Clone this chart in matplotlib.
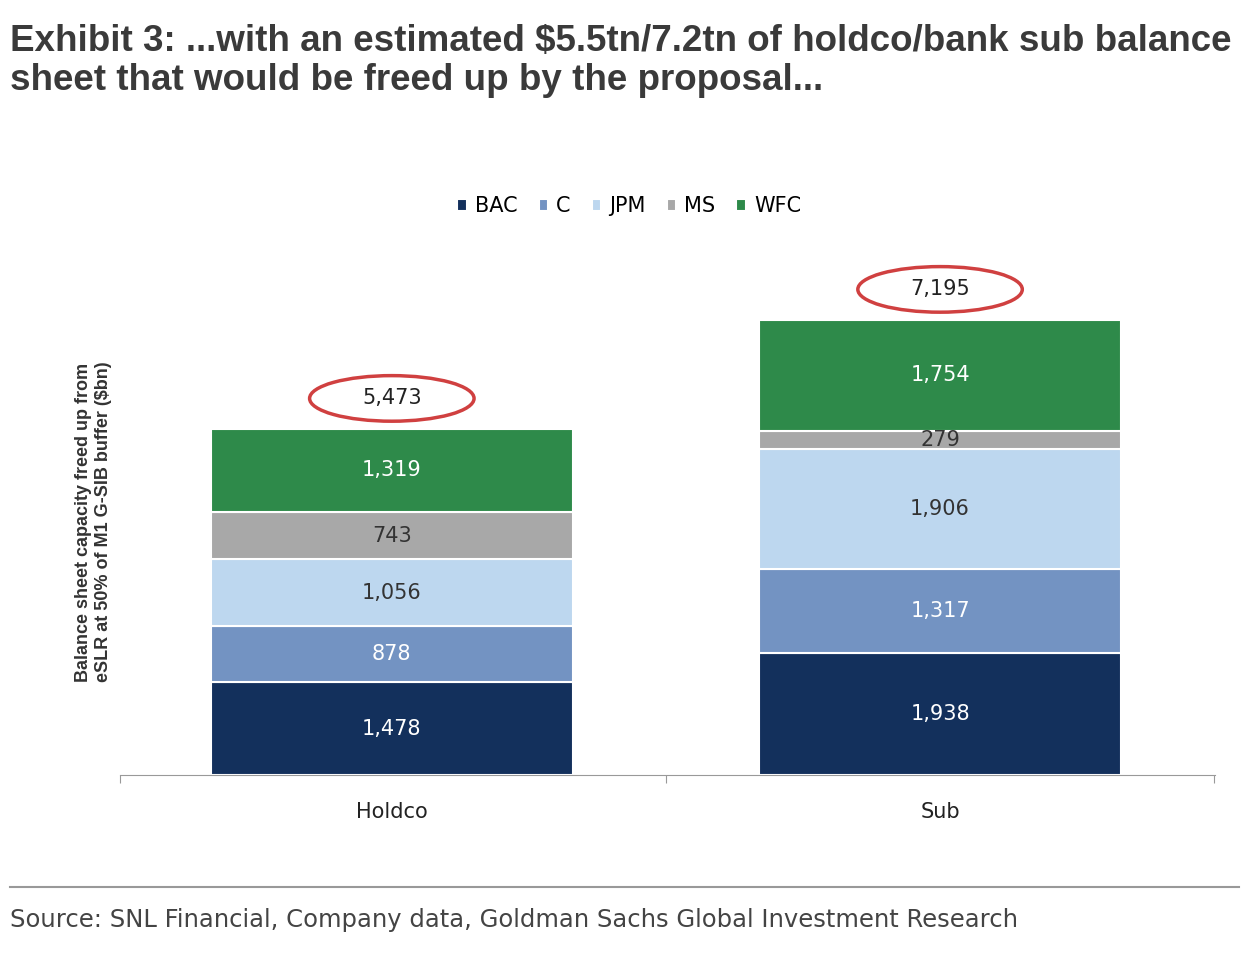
import numpy as np
import matplotlib.pyplot as plt
from matplotlib.patches import Ellipse

categories = ["Holdco", "Sub"]
banks = ["BAC", "C", "JPM", "MS", "WFC"]
bac = [1478, 1938]
c = [878, 1317]
jpm = [1056, 1906]
ms = [743, 279]
wfc = [1319, 1754]
totals = [5473, 7195]

colors = ["#13305c", "#7393c2", "#bdd7ef", "#a8a8a8", "#2e8a4a"]
txtcol = ["white", "white", "#333333", "#333333", "white"]

fig = plt.figure(figsize=(12.49, 9.74), dpi=100)
fig.patch.set_facecolor("white")
fig.text(0.008, 0.975, "Exhibit 3: ...with an estimated $5.5tn/7.2tn of holdco/bank sub balance\nsheet that would be freed up by the proposal...",
         fontsize=26.5, fontweight="bold", color="#3a3a3a", va="top", ha="left", linespacing=1.15,
         family="Liberation Sans")

ax = fig.add_axes([0.096, 0.204, 0.877, 0.52])
x = np.arange(len(categories))
bottom = np.zeros(len(categories))
for name, vals, col, tc in zip(banks, [bac, c, jpm, ms, wfc], colors, txtcol):
    ax.bar(x, vals, 0.66, bottom=bottom, color=col, edgecolor="white", linewidth=1.5, label=name)
    for xi, b, v in zip(x, bottom, vals):
        ax.text(xi, b + v / 2, f"{v:,}", ha="center", va="center", color=tc, fontsize=15)
    bottom += vals

for xi, t in zip(x, totals):
    ax.text(xi, t + 480, f"{t:,}", ha="center", va="center", color="#222222", fontsize=15)
    ax.add_patch(Ellipse((xi, t + 480), 0.3, 720, fill=False, edgecolor="#d04040",
                         linewidth=2.5, clip_on=False))

ax.set_xlim(-0.496, 1.502)
ax.set_ylim(0, 8000)
ax.set_yticks([])
ax.set_xticks([-0.496, 0.5, 1.5])
ax.set_xticklabels([])
ax.tick_params(axis="x", length=6, color="#999999")
for xi, cat in zip(x, categories):
    ax.text(xi, -420, cat, ha="center", va="top", fontsize=15, color="#222222")
for s in ["top", "right", "left"]:
    ax.spines[s].set_visible(False)
ax.spines["bottom"].set_color("#999999")
ax.set_ylabel("Balance sheet capacity freed up from\neSLR at 50% of M1 G-SIB buffer ($bn)",
              fontsize=13, fontweight="bold", color="#333333", labelpad=6, family="Liberation Sans")

ax.legend(loc="upper center", bbox_to_anchor=(0.465, 1.18), ncol=5, frameon=False,
          fontsize=15, handlelength=0.45, handleheight=0.45, handletextpad=0.4, columnspacing=1.0)

fig.add_artist(plt.Line2D([0.008, 0.992], [0.089, 0.089], color="#999999", linewidth=1.5))
fig.text(0.008, 0.055, "Source: SNL Financial, Company data, Goldman Sachs Global Investment Research",
         fontsize=17.5, color="#444444", va="center")

fig.savefig("out.png", dpi=100)
